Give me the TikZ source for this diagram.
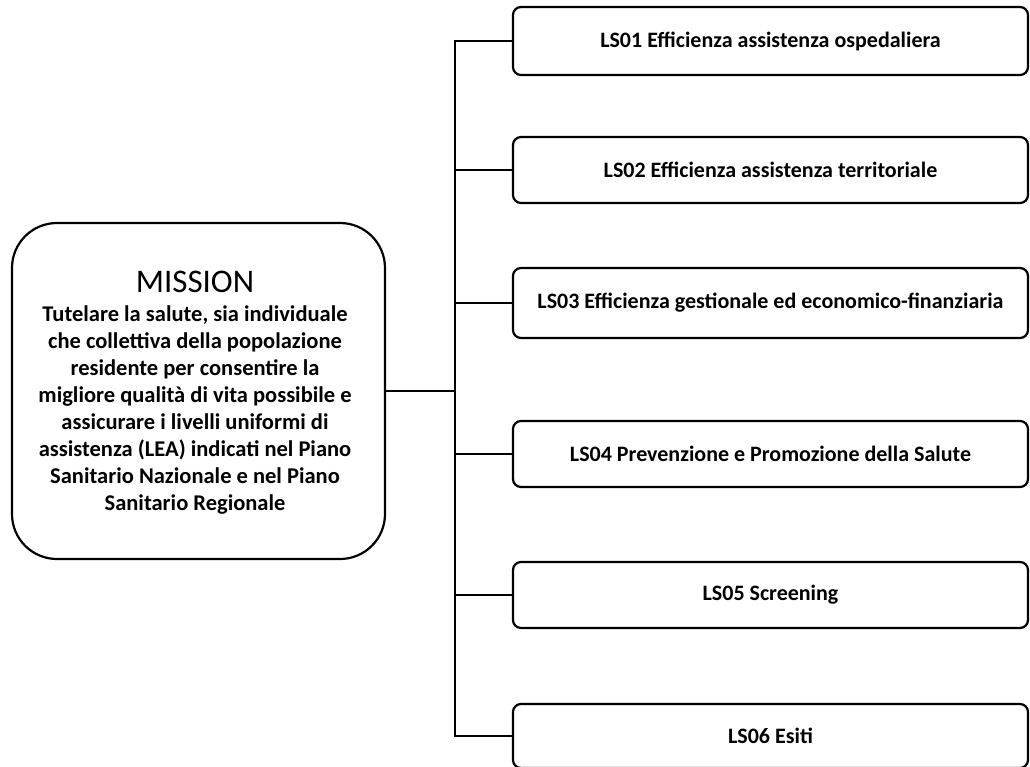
\documentclass[tikz,border=0pt]{standalone}
\usepackage{fontspec}
\setmainfont{Carlito}
\begin{document}
\begin{tikzpicture}[x=1pt,y=-1pt,
  line width=2.2pt,
  lsbox/.style={draw, rounded corners=8pt, minimum width=515pt, minimum height=66pt,
    inner sep=0pt, font=\fontsize{22}{26}\selectfont\bfseries},
  missionbox/.style={draw, rounded corners=45pt, minimum width=373pt, minimum height=336pt, inner sep=0pt},
  link/.style={draw, line width=2.2pt}]
\useasboundingbox (0,0) rectangle (1030,767);
\node[missionbox] (mission) at (198.5,391) {};
\node[font=\fontsize{33}{36}\selectfont] (mtitle) at (195,282) {MISSION};
\node[align=center, inner sep=0pt, font=\fontsize{22.5}{27}\selectfont\bfseries] (mbody) at (195,410)
  {Tutelare la salute, sia individuale\\
   che collettiva della popolazione\\
   residente per consentire la\\
   migliore qualità di vita possibile e\\
   assicurare i livelli uniformi di\\
   assistenza (LEA) indicati nel Piano\\
   Sanitario Nazionale e nel Piano\\
   Sanitario Regionale};
\node[lsbox, minimum height=68pt] (ls1) at (770.5,41) {LS01 Efficienza assistenza ospedaliera};
\node[lsbox] (ls2) at (770.5,170) {LS02 Efficienza assistenza territoriale};
\node[lsbox, minimum height=70pt] (ls3) at (770.5,303) {LS03 Efficienza gestionale ed economico-finanziaria};
\node[lsbox] (ls4) at (770.5,454) {LS04 Prevenzione e Promozione della Salute};
\node[lsbox] (ls5) at (770.5,595) {LS05 Screening};
\node[lsbox, minimum height=64pt] (ls6) at (770.5,736) {LS06 Esiti};
\coordinate (trunk) at (455,391);
\draw[link] (ls1.west) -| (trunk) |- (ls6.west);
\draw[link] (mission.east) -- (trunk);
\draw[link] (ls2.west) -- (ls2.west -| trunk);
\draw[link] (ls3.west) -- (ls3.west -| trunk);
\draw[link] (ls4.west) -- (ls4.west -| trunk);
\draw[link] (ls5.west) -- (ls5.west -| trunk);
\end{tikzpicture}
\end{document}
